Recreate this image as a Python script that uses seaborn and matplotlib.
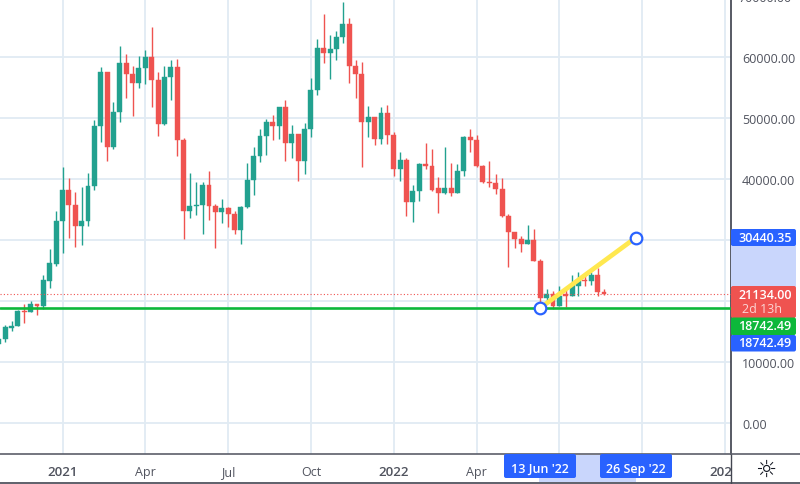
import numpy as np
import pandas as pd
import matplotlib
matplotlib.use('Agg')
import matplotlib.pyplot as plt
import matplotlib.dates as mdates
from matplotlib.lines import Line2D
from matplotlib.patches import FancyBboxPatch, Rectangle
from matplotlib.transforms import Affine2D
import seaborn as sns

# weekly candles, first one is the week of 26 Oct 2020
first_week = '2020-10-26'
opens = [13000, 13820, 15630, 15960, 18470, 18300, 19560, 19290, 23390, 26120,
         33110, 38190, 35840, 32290, 33170, 38850, 48680, 57540, 45300, 50980,
         59010, 57320, 55790, 58190, 60000, 56330, 49120, 56720, 58360, 46440,
         34750, 35680, 35840, 39010, 35630, 34640, 35300, 34260, 31750, 35520,
         39830, 43820, 47050, 49340, 48790, 51850, 46010, 47370, 43060, 48190,
         54700, 61530, 60760, 61360, 63380, 65510, 58630, 57320, 49450, 50210,
         46610, 50870, 47320, 41750, 43170, 36280, 38030, 42510, 42130, 38520,
         37810, 38520, 37810, 41360, 46940, 46440, 42130, 39560, 39400, 38410,
         33930, 31310, 30270, 29450, 30000, 26610, 20550, 21150, 19290, 21150,
         20820, 22570, 23550, 23280, 24320, 21580]
highs = [14100, 16120, 16720, 18630, 19560, 20110, 19600, 24370, 28520, 34860,
         42070, 40220, 37870, 38690, 41040, 49720, 58360, 57600, 52730, 61850,
         60540, 58520, 60210, 61200, 64910, 57650, 58520, 59560, 59670, 46720,
         41040, 39560, 39560, 41360, 35900, 36720, 35460, 34750, 35570, 42670,
         45350, 48250, 49890, 50540, 51900, 53000, 48850, 47400, 49180, 56550,
         63000, 67040, 63710, 64370, 69010, 66390, 59560, 59230, 52020, 50250,
         51850, 52180, 47700, 44530, 43550, 39010, 42670, 45900, 44910, 40380,
         45350, 42730, 42510, 47100, 48190, 47260, 42350, 43000, 40870, 40220,
         34310, 31350, 30710, 32510, 31860, 26940, 22020, 21640, 22460, 21910,
         24370, 24860, 24100, 24750, 25410, 22080]
lows = [12730, 13390, 15080, 15900, 16390, 18200, 17760, 18740, 22130, 25850,
        27920, 30430, 28900, 29290, 32400, 38300, 46060, 43060, 45020, 49450,
        53270, 50430, 54910, 55570, 51800, 47150, 48900, 53060, 43880, 30220,
        33600, 34200, 31040, 33390, 28740, 32840, 32240, 31040, 29400, 35350,
        37370, 42890, 44040, 46390, 46550, 43060, 43550, 39780, 40930, 46940,
        53880, 59120, 56390, 59610, 62400, 55790, 53380, 42070, 46940, 45570,
        45730, 45730, 40540, 39780, 34040, 33060, 36390, 41690, 38080, 34420,
        37590, 37260, 37780, 40600, 44420, 42100, 39400, 38690, 37590, 33900,
        25570, 28740, 28090, 29400, 26580, 19560, 20110, 18740, 19250, 19120,
        20800, 20870, 22570, 22680, 20930, 21040]
closes = [13820, 15740, 16010, 18470, 18300, 19560, 19290, 23500, 26280, 33220,
          38190, 35790, 32290, 33170, 38850, 48680, 57540, 45300, 50980, 59010,
          57320, 55790, 58190, 60000, 56330, 49120, 56720, 58360, 46440, 34750,
          35680, 35840, 39010, 35630, 34640, 35300, 34260, 31750, 35520, 39830,
          43820, 47050, 49340, 48790, 51850, 46010, 47370, 43060, 48190, 54700,
          61530, 60760, 61360, 63380, 65510, 58630, 57320, 49450, 50210, 46610,
          50870, 47320, 41750, 43170, 36280, 38030, 42510, 42130, 38190, 37810,
          38520, 37810, 41360, 46940, 46440, 42130, 39560, 39400, 38410, 33930,
          31310, 30270, 29450, 30000, 26610, 20550, 21150, 19290, 20930, 20820,
          22730, 23390, 23280, 24320, 21580, 21134]

# axes labels, the blank ones sit behind the highlighted date and price tags
y_ticks = [0, 10000, 20000, 30000, 40000, 50000, 60000]
y_tick_labels = ['0.00', '10000.00', '', '', '40000.00', '50000.00', '60000.00']
x_tick_dates = ['2021-01-04', '2021-04-05', '2021-07-05', '2021-10-04', '2022-01-03',
                '2022-04-04', '2022-07-04', '2022-10-03', '2023-01-02']
x_tick_labels = ['2021', 'Apr', 'Jul', 'Oct', '2022', 'Apr', '', '', '2023']

# drawn lines
last_price = 21134
support_level = 18900
trend_dates = ['2022-06-13', '2022-09-26']
trend_prices = [18900, 30440.35]

green = '#22a18f'
red = '#ef5350'
blue = '#2962ff'
shade = '#c9d6fc'
line_green = '#0db83a'
grid_col = '#e1ebf3'
axis_col = '#50535e'

sns.set_theme(style='white')
plt.rcParams['font.family'] = ['Open Sans', 'DejaVu Sans']

df = pd.DataFrame({'date': pd.date_range(first_week, periods=len(opens), freq='W-MON'),
                   'open': opens, 'high': highs, 'low': lows, 'close': closes})
df['x'] = mdates.date2num(df['date'])
df['up'] = df['close'] >= df['open']
df['colour'] = np.where(df['up'], green, red)

fig = plt.figure(figsize=(8, 4.85), dpi=100)
ax = fig.add_axes([0, 30 / 485, 731 / 800, 455 / 485])

# pixel coordinates of the picture, y going down
px = Affine2D().scale(1, -1).translate(0, 485)

x_left = mdates.date2num(pd.Timestamp('2020-10-27 07:12'))
x_right = mdates.date2num(pd.Timestamp('2023-01-08 14:24'))

# candles
ax.vlines(df['x'], df['low'], df['high'], colors=df['colour'], linewidth=1.0, zorder=3)
ax.bar(df['x'], (df['close'] - df['open']).abs(), bottom=df[['open', 'close']].min(axis=1),
       width=5.4, color=df['colour'], edgecolor=df['colour'], linewidth=0.3, zorder=4)

# current price and support
ax.hlines(last_price, x_left, x_right, colors=red, linewidth=0.8, linestyles=(0, (1, 2)), zorder=5)
sns.lineplot(x=[x_left, x_right], y=[support_level, support_level], color=line_green,
             linewidth=1.9, ax=ax, zorder=6, errorbar=None)

# trend line with handles
trend_x = mdates.date2num(pd.to_datetime(trend_dates))
sns.lineplot(x=trend_x, y=trend_prices, color='#ffe84f', linewidth=3.4, ax=ax, zorder=7, errorbar=None)
ax.scatter(trend_x, trend_prices, s=70, facecolor='white', edgecolor=blue, linewidth=1.6, zorder=8)

ax.set_xlim(x_left, x_right)
ax.set_ylim(-5030, 69560)
ax.set_xticks(mdates.date2num(pd.to_datetime(x_tick_dates)))
ax.set_xticklabels(x_tick_labels)
ax.set_yticks(y_ticks)
ax.set_yticklabels(y_tick_labels)
ax.yaxis.tick_right()
ax.grid(True, color=grid_col, linewidth=1.3)
ax.set_axisbelow(True)
ax.tick_params(axis='x', length=0, pad=8, labelsize=9, labelcolor=axis_col)
ax.tick_params(axis='y', length=0, pad=8, labelsize=9, labelcolor=axis_col)
for lab in ax.get_xticklabels():
    if lab.get_text() in ('2021', '2022', '2023'):
        lab.set_fontweight('semibold')
        lab.set_fontsize(9.5)
for side in ['top', 'left']:
    ax.spines[side].set_visible(False)
ax.spines['right'].set_color('#434651')
ax.spines['bottom'].set_color('#5c5f6a')
ax.spines['bottom'].set_linewidth(1.2)


def box(x0, y0, x1, y1, colour, round_px=0):
    if round_px:
        fig.add_artist(FancyBboxPatch((x0, y0), x1 - x0, y1 - y0, transform=px, facecolor=colour,
                                      edgecolor='none',
                                      boxstyle=f'round,pad=0,rounding_size={round_px}'))
    else:
        fig.add_artist(Rectangle((x0, y0), x1 - x0, y1 - y0, transform=px, facecolor=colour,
                                 edgecolor='none'))


def label(x, y, text, colour='white', size=9, **kw):
    fig.text(x, y, text, transform=px, color=colour, fontsize=size, ha='center', va='center', **kw)


# the top label is cut off by the picture edge
label(765, -1, '70000.00', colour=axis_col)

# highlighted range on the price scale
box(731, 246, 796, 288, shade)
box(731, 230, 796, 247, blue, 2)
label(765, 238.5, '30440.35', weight='semibold')
box(731, 287, 796, 319, red, 2)
label(765, 295.5, '21134.00', weight='semibold')
label(762, 310, '2d 13h', colour='#fbd5d4', weight='medium')
box(731, 318.5, 796, 336, line_green, 2)
label(765, 327, '18742.49', weight='semibold')
box(731, 336, 796, 352.5, blue, 2)
label(765, 344, '18742.49', weight='semibold')

# highlighted range on the time scale
box(539, 456, 636, 483, shade)
box(504, 455, 576, 479, blue, 2)
label(540, 469.5, "13 Jun '22", weight='semibold')
box(600, 455, 672, 479, blue, 2)
label(636, 469.5, "26 Sep '22", weight='semibold')

# corner cell with the settings icon, covers the end of the 2023 label
box(732, 456, 800, 483, 'white')
label(766, 469.5, '\u263c', colour='#131722', size=17, family='DejaVu Sans')
fig.add_artist(Line2D([731, 731], [455, 485], transform=px, color='#434651', linewidth=1))
fig.add_artist(Line2D([0, 800], [483.5, 483.5], transform=px, color='#434651', linewidth=1.2))
fig.add_artist(Line2D([731, 800], [455, 455], transform=px, color='#5c5f6a', linewidth=1.2))

fig.savefig('out.png', dpi=100)
